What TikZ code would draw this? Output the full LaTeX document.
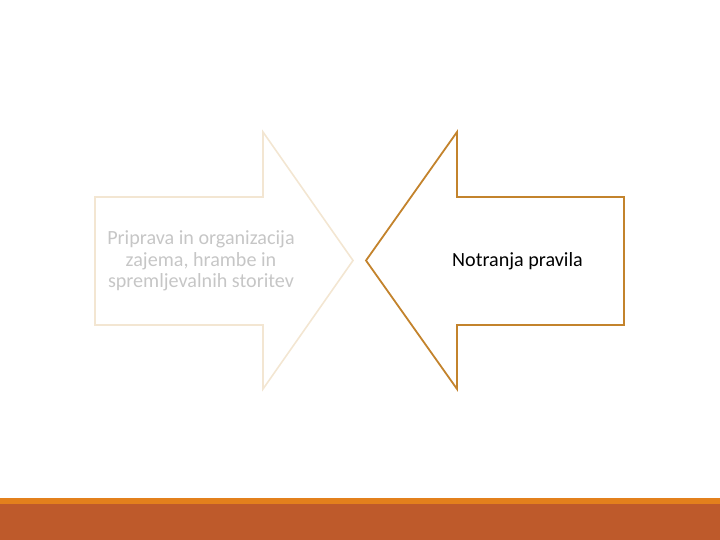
\documentclass[tikz,border=0pt]{standalone}
\usepackage{fontspec}
\setmainfont{Carlito}
\definecolor{paleout}{HTML}{F3E6D2}
\definecolor{paletext}{HTML}{C6C6C6}
\definecolor{goldout}{HTML}{C3832C}
\definecolor{bandorange}{HTML}{E3801C}
\definecolor{banddark}{HTML}{BE5A2B}
\tikzset{
  arrowtext/.style={align=center, font=\fontsize{20.2}{21.5}\selectfont, inner sep=0pt},
}
\begin{document}
\begin{tikzpicture}[x=1bp,y=-1bp]
\useasboundingbox (0,0) rectangle (720,540);
% bottom band
\fill[banddark] (0,504) rectangle (720,540);
\fill[bandorange] (0,497.5) rectangle (720,504);
% left arrow (pointing right)
\draw[paleout, line width=1.6bp, line join=miter]
  (95,197) -- (263,197) -- (263,132) -- (353,260.5) -- (263,389) -- (263,325) -- (95,325) -- cycle;
\node[arrowtext, text=paletext] (lefttext) at (201,261) {Priprava in organizacija\\zajema, hrambe in\\spremljevalnih storitev};
% right arrow (pointing left)
\draw[goldout, line width=1.8bp, line join=miter]
  (624,197) -- (457,197) -- (457,132) -- (366,260.5) -- (457,389) -- (457,325) -- (624,325) -- cycle;
\node[arrowtext, text=black] (righttext) at (517.5,261) {Notranja pravila};
\end{tikzpicture}
\end{document}
